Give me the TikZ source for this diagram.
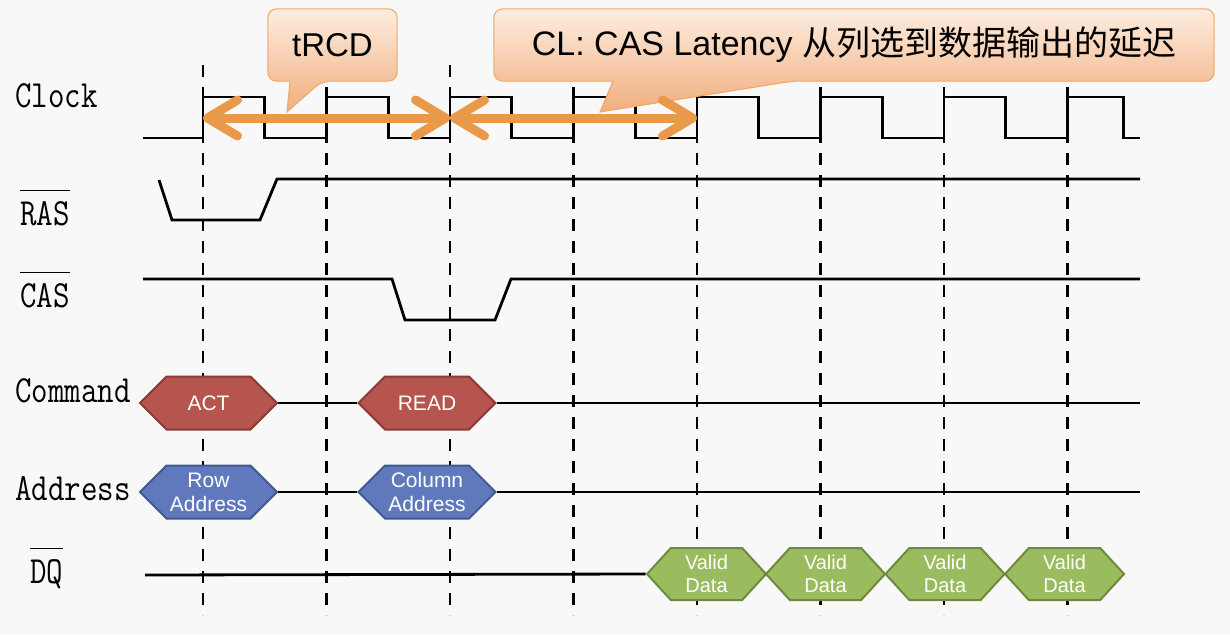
\documentclass[tikz,border=0pt]{standalone}
\usepackage{graphicx}
\usepackage{fontspec}
\newfontfamily\arial{Liberation Sans}
\newfontfamily\cjk{Noto Sans CJK SC}
\usetikzlibrary{arrows.meta, shapes.symbols}
\definecolor{bgcol}{HTML}{F8F8F8}
\definecolor{tipcol}{HTML}{E8994A}
\definecolor{boxtop}{HTML}{FDEDE0}
\definecolor{boxbot}{HTML}{F0AE7E}
\definecolor{boxline}{HTML}{F0A765}
\definecolor{cmdfill}{HTML}{B5554E}
\definecolor{cmdline}{HTML}{8A3A34}
\definecolor{adrfill}{HTML}{6079BC}
\definecolor{adrline}{HTML}{41598F}
\definecolor{dqfill}{HTML}{9BBB5F}
\definecolor{dqline}{HTML}{6F8A3E}
\newcommand\sigbar[1]{\vbox{\hrule height 1.3pt\vskip 8pt\hbox{#1}}}
\newcommand\sigtxt[1]{\scalebox{1}[1.2]{#1}}

\begin{document}
\begin{tikzpicture}[x=1pt, y=-1pt,
	siglbl/.style={anchor=base west, inner sep=0pt, font=\ttfamily\fontsize{32}{32}\selectfont},
	wave/.style={line width=2.8pt},
	tickline/.style={line width=2.8pt, dash pattern=on 12pt off 10pt},
	hexa/.style={signal, signal to=west and east, signal pointer angle=90,
		minimum width=137pt, minimum height=53pt, inner sep=0pt, line width=2pt,
		text=white, align=center, font=\arial\fontsize{21}{24}\selectfont},
	cmdhex/.style={hexa, fill=cmdfill, draw=cmdline},
	adrhex/.style={hexa, fill=adrfill, draw=adrline},
	dqhex/.style={hexa, fill=dqfill, draw=dqline, minimum width=119pt, minimum height=52pt,
		signal pointer angle=95, font=\arial\fontsize{20}{23}\selectfont},
	latency/.style={line width=9pt, draw=tipcol,
		{Straight Barb[length=30pt, width=36pt, round]}-{Straight Barb[length=30pt, width=36pt, round]}},
	callout/.style={draw=boxline, line width=1pt, top color=boxtop, bottom color=boxbot},
	frame/.style={minimum height=72pt, inner sep=0pt}]

	\fill[bgcol] (0,0) rectangle (1230,634);

	% clock edges
	\foreach \k in {0,...,7}{
		\coordinate (e\k) at ({203+123.5*\k},118);
		\draw[tickline] ({203+123.5*\k},65) -- ++(0,550);
	}

	% signal names
	\node[siglbl] (clk) at (15,107) {\sigtxt{Clock}};
	\node[siglbl] (ras) at (20,225) {\sigtxt{\sigbar{RAS}}};
	\node[siglbl] (cas) at (20,307) {\sigtxt{\sigbar{CAS}}};
	\node[siglbl] (cmd) at (15,402) {\sigtxt{Command}};
	\node[siglbl] (adr) at (15,500) {\sigtxt{Address}};
	\node[siglbl] (dq) at (30,583) {\sigtxt{\sigbar{DQ}}};

	% waves
	\draw[wave] (143,138) -- (203,138)
		\foreach \k in {0,...,6}{ -- ++(0,-41) -- ++(61.75,0) -- ++(0,41) -- ++(61.75,0)}
		-- ++(0,-41) -- ++(56,0) -- ++(0,41) -- (1140,138);
	\draw[wave] (159,180) -- (172,220) -- (260,220) -- (277,179) -- (1140,179);
	\draw[wave] (143,279) -- (392,279) -- (405,320) -- (495,320) -- (511,279) -- (1140,279);

	% command / address / data
	\node[cmdhex] (act) at (208.5,403) {ACT};
	\node[cmdhex] (read) at (427,403) {READ};
	\coordinate (cmdend) at (1140,403);
	\draw[wave] (act.east) -- (read.west) (read.east) -- (cmdend);

	\node[adrhex] (row) at (208.5,492) {Row\\Address};
	\node[adrhex] (col) at (427,492) {Column\\Address};
	\coordinate (adrend) at (1140,492);
	\draw[wave] (row.east) -- (col.west) (col.east) -- (adrend);

	\coordinate (dqstart) at (145,575);
	\node[dqhex] (vd1) at (706.5,574) {Valid\\Data};
	\node[dqhex] (vd2) at (825.5,574) {Valid\\Data};
	\node[dqhex] (vd3) at (945,574) {Valid\\Data};
	\node[dqhex] (vd4) at (1064.5,574) {Valid\\Data};
	\draw[wave] (dqstart) -- (vd1.west);

	% callouts
	\node[frame, minimum width=129pt] (trcdbox) at (332.5,45) {};
	\draw[callout] (trcdbox.north) [rounded corners=9pt] -- (trcdbox.north east) -- (trcdbox.south east)
		-- (322,81) [sharp corners] -- (287,112) -- (290,81) [rounded corners=9pt]
		-- (trcdbox.south west) -- (trcdbox.north west) -- (trcdbox.north);
	\node[font=\arial\fontsize{33}{33}\selectfont] (trcd) at (trcdbox) {tRCD};

	\node[frame, minimum width=720pt] (clbox) at (854,45) {};
	\draw[callout] (clbox.north) [rounded corners=9pt] -- (clbox.north east) -- (clbox.south east)
		-- (793,81) [sharp corners] -- (600,112) -- (613,81) [rounded corners=9pt]
		-- (clbox.south west) -- (clbox.north west) -- (clbox.north);
	\node[font=\arial\fontsize{34}{34}\selectfont] (cl) at (clbox) {CL: CAS Latency {\cjk 从列选到数据输出的延迟}};

	% latency arrows
	\draw[latency] (e0) -- (e2);
	\draw[latency] (e2) -- (e4);
\end{tikzpicture}
\end{document}
